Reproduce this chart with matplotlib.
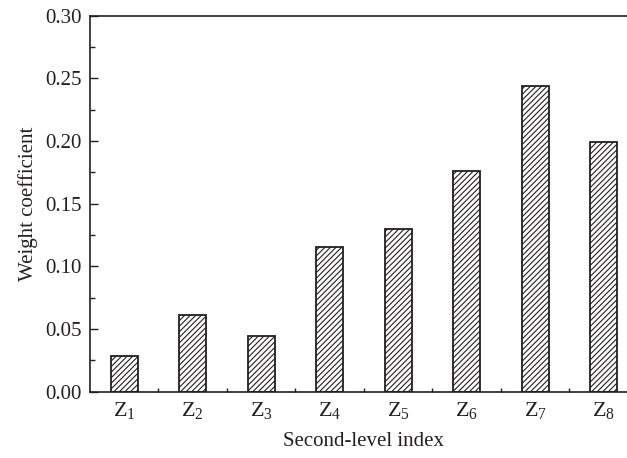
import numpy as np
import matplotlib
matplotlib.use("Agg")
import matplotlib.pyplot as plt
from matplotlib.ticker import MultipleLocator, FixedLocator

plt.rcParams['font.family'] = ['Liberation Serif', 'DejaVu Serif']
plt.rcParams['mathtext.fontset'] = 'custom'
plt.rcParams['mathtext.rm'] = 'Liberation Serif'
plt.rcParams['mathtext.it'] = 'Liberation Serif:italic'
plt.rcParams['hatch.linewidth'] = 0.8
plt.rcParams['hatch.color'] = '#231f20'

categories = [r'$\mathrm{Z}_{%d}$' % i for i in range(1, 9)]
weights = [0.0287, 0.0610, 0.0444, 0.1152, 0.1298, 0.1763, 0.2441, 0.1995]

ink = '#231f20'
fig = plt.figure(figsize=(6.27, 4.58), dpi=100)
# axes run a bit past the right edge, like the cropped original
ax = fig.add_axes([0.1435, 0.1448, 0.874, 0.8209])

x = np.arange(1, len(weights) + 1)
ax.bar(x, weights, width=0.4, facecolor='white', edgecolor=ink,
       linewidth=1.3, hatch='//////', zorder=2)

ax.set_xlim(0.5, 8.5)
ax.set_ylim(0, 0.30)
ax.set_xticks(x)
ax.set_xticklabels(categories)
ax.xaxis.set_minor_locator(FixedLocator(np.arange(1.5, 8.5, 1.0)))
ax.yaxis.set_major_locator(MultipleLocator(0.05))
ax.yaxis.set_minor_locator(MultipleLocator(0.025))
ax.yaxis.set_major_formatter(plt.FormatStrFormatter('%.2f'))

ax.tick_params(axis='both', which='both', direction='in', colors=ink,
               labelsize=15, width=1.0)
ax.tick_params(axis='y', which='major', length=6, pad=6)
ax.tick_params(axis='y', which='minor', length=3.5)
ax.tick_params(axis='x', which='major', length=5, pad=6, labelsize=16)
ax.tick_params(axis='x', which='minor', length=3)

for side in ['left', 'bottom', 'top', 'right']:
    ax.spines[side].set_linewidth(1.2)
    ax.spines[side].set_color(ink)

ax.set_ylabel('Weight coefficient', fontsize=15, color=ink, labelpad=5)
ax.set_xlabel('Second-level index', fontsize=15, color=ink, labelpad=8)

fig.savefig('out.png', dpi=100)
